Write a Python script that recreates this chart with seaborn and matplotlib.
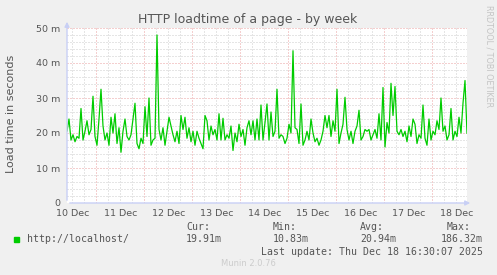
import numpy as np
import pandas as pd
import matplotlib
matplotlib.use("Agg")
import matplotlib.pyplot as plt
import seaborn as sns
from matplotlib.ticker import FixedLocator, MultipleLocator, FuncFormatter
from matplotlib.patches import Rectangle

# ---- data (load time in milliseconds, one sample per hour) ----
load_ms = [
    20.5, 24, 18, 19.5, 17.5, 19, 18.5, 27, 18, 20.5,
    23.5, 19.5, 21, 30.5, 19, 16.5, 24, 32.5, 22, 18,
    20, 16.5, 24.5, 20, 25.5, 17, 21.5, 14.5, 20.5, 24,
    19, 18, 19.5, 24, 28.5, 17, 15.5, 18.5, 17, 27.5,
    19, 30, 16.5, 18, 18.5, 48, 21, 18, 21.5, 16.5,
    20.5, 24.5, 22, 19.5, 17.5, 20.5, 17, 25, 21, 24.5,
    18.5, 21.5, 17.5, 20.5, 16.5, 20.5, 18.5, 17, 15.5, 25,
    23.5, 18, 22, 19.5, 21, 18, 25.5, 18, 24.2, 18,
    19.5, 18.5, 22, 15, 20, 17.5, 22.5, 19, 21, 16.5,
    21.5, 23.5, 19.5, 23.5, 18, 24, 18, 28, 18, 23,
    28.3, 18, 26, 19, 20.5, 32.5, 18.5, 19.5, 19, 17,
    18.5, 22.5, 20, 43.5, 21.5, 21, 17, 28.3, 16.5, 18,
    20.5, 18, 24, 20, 17.5, 18.5, 16.5, 18, 20.5, 25,
    21.5, 25, 19, 23.5, 20.5, 32.5, 17, 20, 22.5, 30.2,
    21, 18, 20.5, 17, 20.5, 22, 26.5, 18, 19, 21,
    20.5, 21, 18, 19.5, 21, 18.5, 25.5, 18, 33, 16,
    23, 20, 34.2, 25, 33.3, 20.5, 19.5, 21, 19, 20.5,
    17.5, 22, 19, 24, 22.5, 17, 19.5, 18.5, 28, 18.5,
    16.5, 24, 18, 20.5, 19.5, 23.5, 21, 30, 20.5, 22,
    18, 19.5, 27, 18, 20.5, 19, 24.5, 20, 28.5, 35,
    19.9,
]
start_day = 10.39          # Dec 10, ~09:20
step_days = 1 / 24         # hourly samples
day_label_pos = [10.5, 11.5, 12.5, 13.5, 14.5, 15.5, 16.5, 17.5, 18.5]
day_labels = ["10 Dec", "11 Dec", "12 Dec", "13 Dec", "14 Dec",
              "15 Dec", "16 Dec", "17 Dec", "18 Dec"]
midnights = [11, 12, 13, 14, 15, 16, 17, 18]
y_ticks = [0, 10, 20, 30, 40, 50]
legend_name = "http://localhost/"
stat_names = ["Cur:", "Min:", "Avg:", "Max:"]
stat_values = ["19.91m", "10.83m", "20.94m", "186.32m"]

df = pd.DataFrame({
    "day": [start_day + i * step_days for i in range(len(load_ms))],
    "load": load_ms,
})

sns.set_theme(style="white")
plt.rcParams["font.family"] = ["DejaVu Sans"]

W, H = 497, 275
fig = plt.figure(figsize=(W / 100, H / 100), dpi=100, facecolor="#F0F0F0")
ax = fig.add_axes([67 / W, (H - 203) / H, 400 / W, 175 / H])
ax.set_facecolor("white")

sns.lineplot(data=df, x="day", y="load", ax=ax, color="#00CC00",
             linewidth=0.9, zorder=5)

ax.set_xlim(start_day, start_day + 400 / 48)
ax.set_ylim(0, 50)

# grids
grey = "#CCCCCC"
red = "#EBA0A0"
dots = (0, (1, 2))
glw = 0.72
six_h = [d + f for d in range(10, 19) for f in (0.25, 0.5, 0.75)]
six_h = [v for v in six_h if start_day <= v <= start_day + 400 / 48]
ax.xaxis.set_major_locator(FixedLocator(six_h))
lab = dict(zip(day_label_pos, day_labels))
ax.xaxis.set_major_formatter(FuncFormatter(lambda v, p: lab.get(round(v, 2), "")))
ax.xaxis.set_minor_locator(FixedLocator(midnights))
ax.yaxis.set_major_locator(FixedLocator(y_ticks))
ax.yaxis.set_major_formatter(FuncFormatter(lambda v, p: "0" if v == 0 else f"{int(v)} m"))
ax.yaxis.set_minor_locator(MultipleLocator(2))

ax.grid(True, which="major", axis="x", color=grey, linestyle=dots, linewidth=glw)
ax.grid(True, which="minor", axis="x", color=red, linestyle=dots, linewidth=glw)
ax.grid(True, which="major", axis="y", color=red, linestyle=dots, linewidth=glw)
ax.grid(True, which="minor", axis="y", color=grey, linestyle=dots, linewidth=glw)
ax.set_axisbelow(True)

ax.tick_params(axis="x", which="major", length=2, color=grey, labelsize=6.8,
               labelcolor="#555555", pad=2)
ax.tick_params(axis="x", which="minor", length=3, color=red)
ax.tick_params(axis="y", which="major", length=2, color=red, labelsize=6.8,
               labelcolor="#555555", pad=3)
ax.tick_params(axis="y", which="minor", length=2, color=grey)
ax.set_xlabel("")
ax.set_ylabel("")

for s in ax.spines.values():
    s.set_visible(False)

axis_col = "#C8CFF5"
ax.annotate("", xy=(0, 1 + 9 / 175), xytext=(0, 0), xycoords="axes fraction",
            arrowprops=dict(arrowstyle="-|>", color=axis_col, lw=1, mutation_scale=7),
            annotation_clip=False, zorder=6)
ax.annotate("", xy=(1 + 6 / 400, 0), xytext=(0, 0), xycoords="axes fraction",
            arrowprops=dict(arrowstyle="-|>", color=axis_col, lw=1, mutation_scale=7),
            annotation_clip=False, zorder=6)

# texts
fig.text(248 / W, 1 - 19 / H, "HTTP loadtime of a page - by week", ha="center",
         va="center", fontsize=9, color="#555555")
fig.text(11 / W, 1 - 114 / H, "Load time in seconds", rotation=90, ha="center",
         va="center", fontsize=8, color="#555555")
fig.text(489 / W, 1 - 5 / H, "RRDTOOL / TOBI OETIKER", rotation=270, ha="center",
         va="top", fontsize=5.8, color="#C4C4C4")

mono = dict(family="DejaVu Sans Mono", fontsize=7.1, color="#555555", va="center")
fig.patches.append(Rectangle((14 / W, 1 - 242 / H), 5 / W, 5 / H,
                             transform=fig.transFigure, color="#00CC00"))
fig.text(27 / W, 1 - 239 / H, legend_name, **mono)
stat_x = [186, 273, 360, 447]
val_x = [186, 273, 360, 441]
for nm, vv, sx, vx in zip(stat_names, stat_values, stat_x, val_x):
    fig.text(sx / W, 1 - 227 / H, nm, **mono)
    fig.text(vx / W, 1 - 239 / H, vv, **mono)
fig.text(483 / W, 1 - 252 / H, "Last update: Thu Dec 18 16:30:07 2025", ha="right", **mono)
fig.text(248 / W, 1 - 264 / H, "Munin 2.0.76", ha="center", va="center",
         fontsize=6, color="#CCCCCC")

fig.savefig("out.png", dpi=100, facecolor=fig.get_facecolor())
